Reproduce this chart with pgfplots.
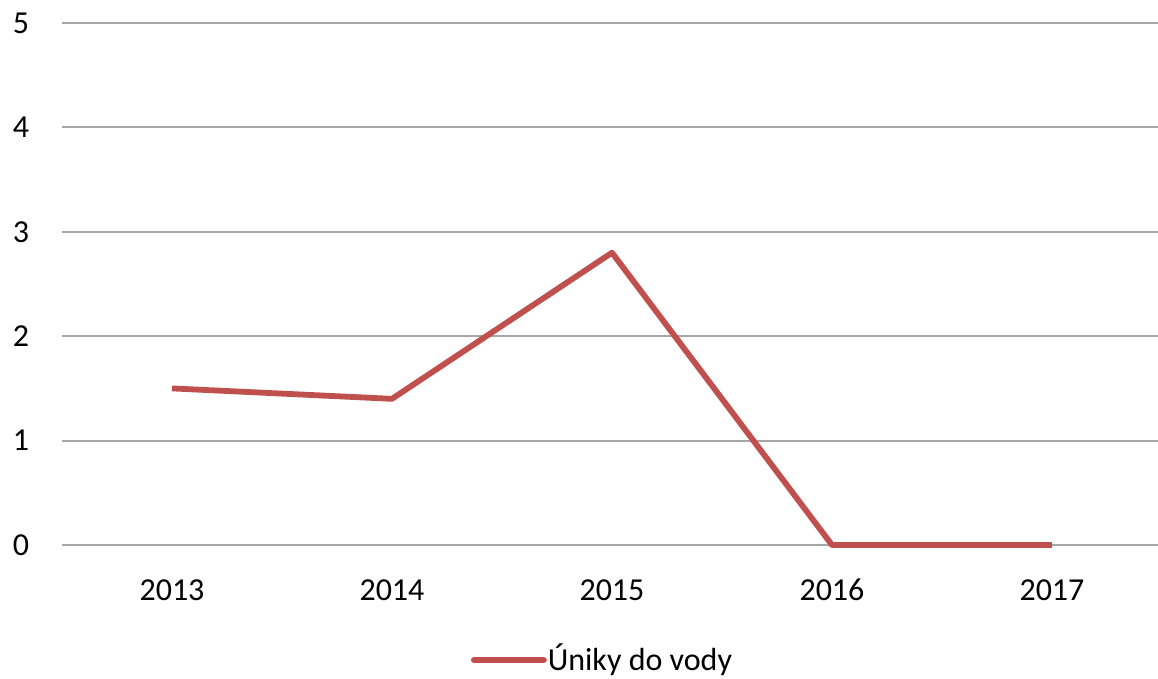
\documentclass[border=0pt]{standalone}
\usepackage{pgfplots}
\pgfplotsset{compat=1.18}
\usepackage{fontspec}
\setmainfont{Carlito}
\definecolor{exred}{HTML}{C0504D}
\definecolor{gridgray}{HTML}{A6A6A6}
\begin{document}
\fontsize{16}{19}\selectfont
\begin{tikzpicture}
\useasboundingbox (-31pt,-67pt) rectangle (548pt,272.5pt);
\begin{axis}[
  at={(0,0)}, anchor=south west,
  scale only axis, width=548pt, height=261pt,
  xmin=-0.5, xmax=4.482, ymin=0, ymax=5,
  clip=false,
  xtick={0,1,2,3,4}, xticklabels={2013,2014,2015,2016,2017},
  ytick={0,1,2,3,4,5},
  axis line style={draw=none},
  ymajorgrids, grid style={gridgray, line width=1pt},
  major tick length=0pt,
  tick label style={font=\fontsize{16}{19}\selectfont},
  yticklabel style={anchor=center, xshift=-20.5pt},
  xticklabel style={anchor=center, yshift=-22.5pt},
  /pgf/number format/assume math mode=true,
  legend style={at={(0.4927,-0.2203)}, anchor=center, draw=none, fill=none,
    font=\fontsize{16}{19}\selectfont, inner sep=0pt,
    nodes={inner xsep=0.5pt, inner ysep=1pt}},
  legend cell align=left,
  legend image code/.code={\draw[#1, line cap=round] (0pt,0pt) -- (35pt,0pt);},
]
\addplot[exred, line width=2.9pt, line join=round, mark=none] coordinates {
  (0,1.5) (1,1.4) (2,2.8) (3,0) (4,0)
};
\addlegendentry{Úniky do vody}
\end{axis}
\end{tikzpicture}
\end{document}
